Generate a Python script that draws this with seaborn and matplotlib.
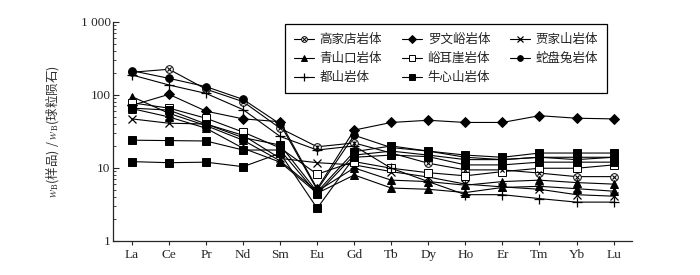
import pandas as pd
import matplotlib
matplotlib.use('Agg')
import matplotlib.pyplot as plt
import seaborn as sns
from matplotlib.lines import Line2D
from matplotlib.ticker import FixedLocator, FixedFormatter, LogLocator, NullFormatter

ELEMENTS = ['La', 'Ce', 'Pr', 'Nd', 'Sm', 'Eu', 'Gd', 'Tb', 'Dy', 'Ho', 'Er', 'Tm', 'Yb', 'Lu']

# chondrite-normalised REE, one list per sample
GAOJIADIAN = [205, 225, 120, 81, 35, 19.5, 22, 16, 11.6, 9.4, 9.4, 8.5, 7.6, 7.6]
LUOWENYU = [72, 102, 60, 47, 43, 5.2, 33, 42, 45, 42, 42, 52, 48, 47]
JIAJIASHAN = [47, 41, 40, 28, 13.5, 11.8, 11, 8.9, 7.5, 6.0, 5.5, 5.1, 4.3, 4.1]
QINGSHANKOU_1 = [95, 56, 38, 24, 12.5, 4.8, 10, 6.8, 6.5, 5.8, 6.5, 6.8, 6.3, 6.0]
QINGSHANKOU_2 = [65, 50, 35, 18.6, 12, 4.5, 8, 5.3, 5.1, 4.6, 5.4, 5.6, 5.2, 4.8]
YUERYA = [78, 66, 48, 31, 18.8, 8.2, 12.2, 9.9, 8.6, 7.8, 8.9, 9.9, 9.9, 11]
SHEPANTU = [215, 169, 130, 87, 40, 5.0, 28, 19, 17, 14, 13, 14, 13, 14]
DUSHAN = [188, 137, 105, 63, 27, 17.6, 20, 9.9, 6.5, 4.3, 4.3, 3.8, 3.4, 3.4]
NIUXINSHAN_1 = [66, 62, 40, 26, 20.6, 4.7, 16.7, 20, 17, 15, 14, 16, 16, 16]
NIUXINSHAN_2 = [24, 23.7, 23.4, 17.6, 17.6, 4.4, 15, 17, 15, 13, 13, 14, 14, 14]
NIUXINSHAN_3 = [12.2, 11.8, 12, 10.4, 15.9, 2.8, 14, 15, 14.3, 11, 11, 12, 12, 12]

BODIES = ['高家店岩体', '罗文峪岩体', '贾家山岩体', '青山口岩体',
          '峪耳崖岩体', '蛇盘兔岩体', '都山岩体', '牛心山岩体']
SAMPLES = {
    '高家店岩体': [GAOJIADIAN],
    '罗文峪岩体': [LUOWENYU],
    '贾家山岩体': [JIAJIASHAN],
    '青山口岩体': [QINGSHANKOU_1, QINGSHANKOU_2],
    '峪耳崖岩体': [YUERYA],
    '蛇盘兔岩体': [SHEPANTU],
    '都山岩体': [DUSHAN],
    '牛心山岩体': [NIUXINSHAN_1, NIUXINSHAN_2, NIUXINSHAN_3],
}
# legend is filled row by row in the original (3 columns)
LEGEND_ORDER = ['高家店岩体', '青山口岩体', '都山岩体',
                '罗文峪岩体', '峪耳崖岩体', '牛心山岩体',
                '贾家山岩体', '蛇盘兔岩体']

STYLE = {
    '高家店岩体': dict(marker='o', ms=5.5, mfc='white'),
    '罗文峪岩体': dict(marker='D', ms=5, mfc='k'),
    '贾家山岩体': dict(marker='x', ms=6, mfc='none', mew=0.9),
    '青山口岩体': dict(marker='^', ms=5.5, mfc='k'),
    '峪耳崖岩体': dict(marker='s', ms=5.5, mfc='white'),
    '蛇盘兔岩体': dict(marker='o', ms=5.5, mfc='k'),
    '都山岩体': dict(marker='+', ms=7, mfc='none', mew=0.9),
    '牛心山岩体': dict(marker='s', ms=5.5, mfc='k'),
}

sns.set_style('ticks')
plt.rcParams['font.family'] = ['Liberation Serif', 'Noto Sans CJK SC']
plt.rcParams['mathtext.fontset'] = 'stix'

fig = plt.figure(figsize=(7, 2.75), dpi=100)
ax = fig.add_axes([0.162, 0.124, 0.741, 0.796])

rows = []
for body in BODIES:
    for i, vals in enumerate(SAMPLES[body]):
        for el, v in zip(ELEMENTS, vals):
            rows.append({'body': body, 'sample': f'{body}{i}', 'element': el, 'value': v})
df = pd.DataFrame(rows)

for body in BODIES:
    st = STYLE[body]
    sub = df[df['body'] == body]
    for sample, g in sub.groupby('sample', sort=False):
        sns.lineplot(data=g, x='element', y='value', ax=ax, color='k', lw=0.8,
                     marker=st['marker'], markersize=st['ms'], markerfacecolor=st['mfc'],
                     markeredgecolor='k', markeredgewidth=st.get('mew', 0.7),
                     estimator=None, sort=False, legend=False, zorder=3)
        if body == '高家店岩体':
            sns.scatterplot(data=g, x='element', y='value', ax=ax, marker='x', s=9,
                            color='k', linewidth=0.8, legend=False, zorder=4)

ax.set_yscale('log')
ax.set_ylim(1, 1000)
ax.set_xlim(-0.5, 13.5)
ax.yaxis.set_major_locator(FixedLocator([1, 10, 100, 1000]))
ax.yaxis.set_major_formatter(FixedFormatter(['1', '10', '100', '1 000']))
ax.yaxis.set_minor_locator(LogLocator(base=10, subs=range(2, 10)))
ax.yaxis.set_minor_formatter(NullFormatter())
ax.tick_params(axis='y', which='major', direction='in', length=4, width=0.8, labelsize=9.5, pad=2)
ax.tick_params(axis='y', which='minor', direction='in', length=2, width=0.6)
ax.tick_params(axis='x', direction='out', length=3, width=0.8, labelsize=9.5, pad=3)
for s in ['top', 'right']:
    ax.spines[s].set_visible(False)
for s in ['left', 'bottom']:
    ax.spines[s].set_linewidth(0.9)
ax.set_xlabel('')
ax.set_ylabel(r'$w_{\rm B}$(样品) / $w_{\rm B}$(球粒陨石)', fontsize=9,
              family=['Noto Sans CJK SC'], color='#333333', labelpad=14)

handles = []
for body in LEGEND_ORDER:
    st = STYLE[body]
    h = Line2D([], [], color='k', lw=0.8, marker=st['marker'], markersize=st['ms'] * 0.75,
               markerfacecolor=st['mfc'], markeredgecolor='k', markeredgewidth=st.get('mew', 0.7))
    if body == '高家店岩体':
        h = (h, Line2D([], [], color='k', lw=0, marker='x', markersize=2.5, markeredgewidth=0.7))
    handles.append(h)

leg = fig.legend(handles, LEGEND_ORDER, ncol=3, loc='upper right', bbox_to_anchor=(0.876, 0.935),
                 frameon=True, fancybox=False, edgecolor='k', framealpha=1,
                 handlelength=1.6, handletextpad=0.45, columnspacing=1.6, labelspacing=0.5,
                 borderpad=0.7, prop={'family': ['Noto Sans CJK SC'], 'size': 9})
leg.get_frame().set_linewidth(0.9)
for t in leg.get_texts():
    t.set_color('#222222')

fig.savefig('out.png', dpi=100)
